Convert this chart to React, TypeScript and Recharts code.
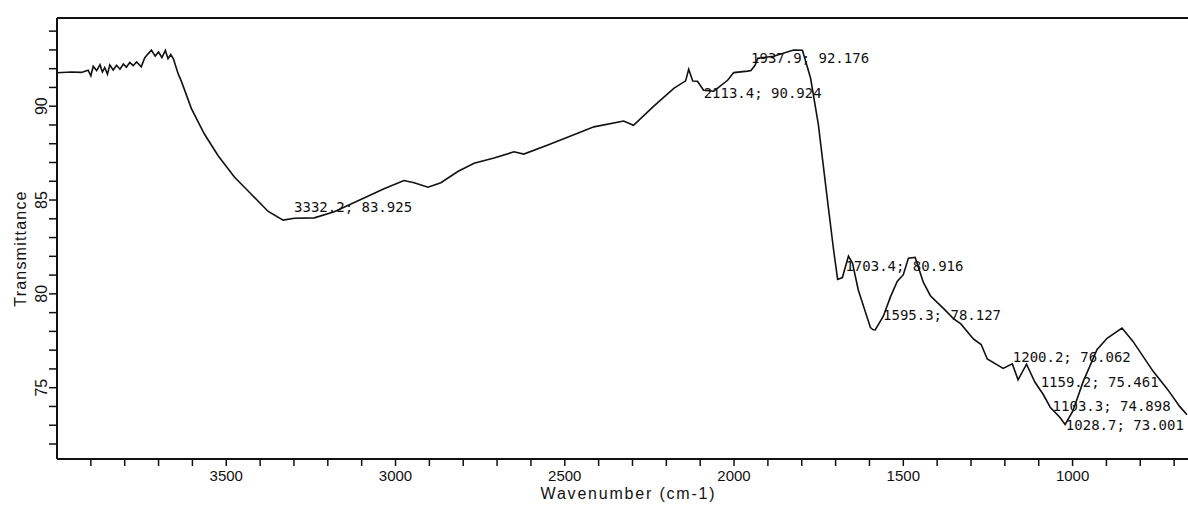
import React from 'react';
import { ComposedChart, Line, Scatter, XAxis, YAxis, ReferenceLine, Label } from 'recharts';

// spectrum trace (wavenumber in cm-1, transmittance in %)
const wavenumber = [
  4000, 3957, 3928, 3908, 3900, 3893, 3883, 3873, 3866, 3859, 3851, 3844, 3834, 3824, 3814, 3804,
  3795, 3785, 3775, 3765, 3751, 3741, 3731, 3721, 3710, 3700, 3690, 3680, 3672, 3664, 3656, 3642,
  3633, 3603, 3565, 3524, 3476, 3426, 3376, 3332, 3299, 3240, 3181, 3093, 3034, 2975, 2945, 2904,
  2866, 2816, 2768, 2709, 2650, 2621, 2550, 2462, 2414, 2326, 2297, 2237, 2178, 2143, 2134, 2122,
  2108, 2090, 2060, 2019, 2001, 1960, 1950, 1938, 1930, 1883, 1824, 1798, 1774, 1751, 1724, 1706,
  1694, 1680, 1662, 1650, 1633, 1597, 1590, 1583, 1559, 1538, 1518, 1500, 1485, 1465, 1441, 1420,
  1400, 1380, 1352, 1330, 1293, 1270, 1252, 1205, 1178, 1161, 1136, 1111, 1087, 1066, 1037, 1022,
  999, 969, 928, 898, 854, 822, 762, 721, 683, 662,
];
const transmittance = [
  91.78, 91.82, 91.8, 91.92, 91.62, 92.13, 91.9, 92.21, 91.82, 92.06, 91.71, 92.2, 91.93, 92.18, 91.97, 92.25,
  92.08, 92.33, 92.16, 92.36, 92.1, 92.57, 92.79, 92.99, 92.67, 92.89, 92.59, 92.97, 92.53, 92.75, 92.52, 91.72,
  91.35, 89.87, 88.53, 87.36, 86.23, 85.31, 84.39, 83.93, 84.03, 84.05, 84.38, 85.11, 85.6, 86.04, 85.92, 85.68,
  85.92, 86.52, 86.96, 87.24, 87.57, 87.45, 87.93, 88.56, 88.9, 89.21, 88.98, 90.0, 90.95, 91.35, 91.97, 91.34,
  91.33, 90.85, 90.8, 91.38, 91.79, 91.87, 91.9, 92.18, 92.55, 92.66, 92.99, 92.98, 91.5, 89.03, 84.98, 82.35,
  80.77, 80.87, 82.01, 81.63, 80.21, 78.2, 78.1, 78.08, 78.81, 79.84, 80.66, 81.02, 81.9, 81.94, 80.62, 79.9,
  79.55, 79.2, 78.68, 78.4, 77.6, 77.3, 76.53, 76.03, 76.27, 75.42, 76.25, 75.29, 74.65, 73.96, 73.41, 73.04,
  73.76, 75.31, 77.02, 77.63, 78.18, 77.48, 75.87, 74.95, 73.99, 73.56,
];

// peak picks printed on the spectrum
const peakWn = [3332.2, 2113.4, 1937.9, 1703.4, 1595.3, 1200.2, 1159.2, 1103.3, 1028.7];
const peakT = [83.925, 90.924, 92.176, 80.916, 78.127, 76.062, 75.461, 74.898, 73.001];
const peakText = [
  '3332.2; 83.925',
  '2113.4; 90.924',
  '1937.9; 92.176',
  '1703.4; 80.916',
  '1595.3; 78.127',
  '1200.2; 76.062',
  '1159.2; 75.461',
  '1103.3; 74.898',
  '1028.7; 73.001',
];
// where each label sits relative to its point [dx, dy]
const peakLabelShift = [
  [11, -13], [8, 4], [-4, -7], [11, -11], [12, -14], [8, -11], [22, 3], [15, 16], [3, 0],
];

const xTicks = [
  700, 800, 900, 1000, 1100, 1200, 1300, 1400, 1500, 1600, 1700, 1800, 1900, 2000, 2100, 2200, 2300,
  2400, 2500, 2600, 2700, 2800, 2900, 3000, 3100, 3200, 3300, 3400, 3500, 3600, 3700, 3800, 3900,
];
const xLabelTicks = [1000, 1500, 2000, 2500, 3000, 3500];
const yTicks = [72, 73, 74, 75, 76, 77, 78, 79, 80, 81, 82, 83, 84, 85, 86, 87, 88, 89, 90, 91, 92, 93, 94];
const yLabelTicks = [75, 80, 85, 90];

const spectrum = wavenumber.map((wn, i) => ({ wn, t: transmittance[i] }));
const peaks = peakWn.map((wn, i) => ({ wn, t: peakT[i], text: peakText[i], shift: peakLabelShift[i] }));

const FONT = '"Liberation Sans", Arial, sans-serif';

const XTick = ({ x, y, payload }: any) => {
  if (!xLabelTicks.includes(payload.value)) return <g />;
  return (
    <text x={x} y={y} dy={13} textAnchor="middle" fontSize={15} fill="#111" fontFamily={FONT}>
      {payload.value}
    </text>
  );
};

const YTick = ({ x, y, payload }: any) => {
  if (!yLabelTicks.includes(payload.value)) return <g />;
  return (
    <text
      x={x}
      y={y}
      transform={`rotate(-90 ${x} ${y})`}
      textAnchor="middle"
      fontSize={16}
      fill="#111"
      fontFamily={FONT}
    >
      {payload.value}
    </text>
  );
};

const PeakLabel = (props: any) => {
  const { cx, cy, payload } = props;
  const [dx, dy] = payload.shift;
  return (
    <text
      x={cx + dx}
      y={cy + dy}
      dominantBaseline="central"
      fontSize={14}
      fill="#111"
      fontFamily='"DejaVu Sans Mono", monospace'
    >
      {payload.text}
    </text>
  );
};

export default function App() {
  return (
    <div style={{ position: 'absolute', left: 0, top: 0, width: 1188, height: 509, background: '#fff' }}>
      <ComposedChart width={1188} height={509} margin={{ top: 18, right: 0, bottom: 0, left: 0 }}>
        <XAxis
          type="number"
          dataKey="wn"
          domain={[659, 4000]}
          reversed
          ticks={xTicks}
          interval={0}
          tick={<XTick />}
          tickSize={7}
          tickLine={{ stroke: '#111', strokeWidth: 1.5 }}
          axisLine={{ stroke: '#111', strokeWidth: 2 }}
          height={50}
          allowDataOverflow
        >
          <Label
            content={({ viewBox }: any) => (
              <text
                x={viewBox.x + viewBox.width / 2 + 6}
                y={viewBox.y + 40}
                textAnchor="middle"
                fontSize={16}
                letterSpacing={1.8}
                fill="#111"
                fontFamily={FONT}
              >
                Wavenumber (cm-1)
              </text>
            )}
          />
        </XAxis>
        <YAxis
          type="number"
          domain={[71.2, 94.7]}
          ticks={yTicks}
          interval={0}
          tick={<YTick />}
          tickSize={8}
          tickLine={{ stroke: '#111', strokeWidth: 1.5 }}
          axisLine={{ stroke: '#111', strokeWidth: 2 }}
          width={57}
          allowDataOverflow
        >
          <Label
            content={({ viewBox }: any) => {
              const cx = viewBox.x + 20;
              const cy = viewBox.y + viewBox.height / 2 + 10;
              return (
                <text
                  x={cx}
                  y={cy}
                  transform={`rotate(-90 ${cx} ${cy})`}
                  textAnchor="middle"
                  dominantBaseline="central"
                  fontSize={16}
                  letterSpacing={1.2}
                  fill="#111"
                  fontFamily={FONT}
                >
                  Transmittance
                </text>
              );
            }}
          />
        </YAxis>
        <ReferenceLine y={94.7} stroke="#111" strokeWidth={2} />
        <Line
          data={spectrum}
          dataKey="t"
          type="linear"
          stroke="#111"
          strokeWidth={1.6}
          dot={false}
          activeDot={false}
          isAnimationActive={false}
        />
        <Scatter data={peaks} dataKey="t" shape={<PeakLabel />} isAnimationActive={false} />
      </ComposedChart>
    </div>
  );
}
